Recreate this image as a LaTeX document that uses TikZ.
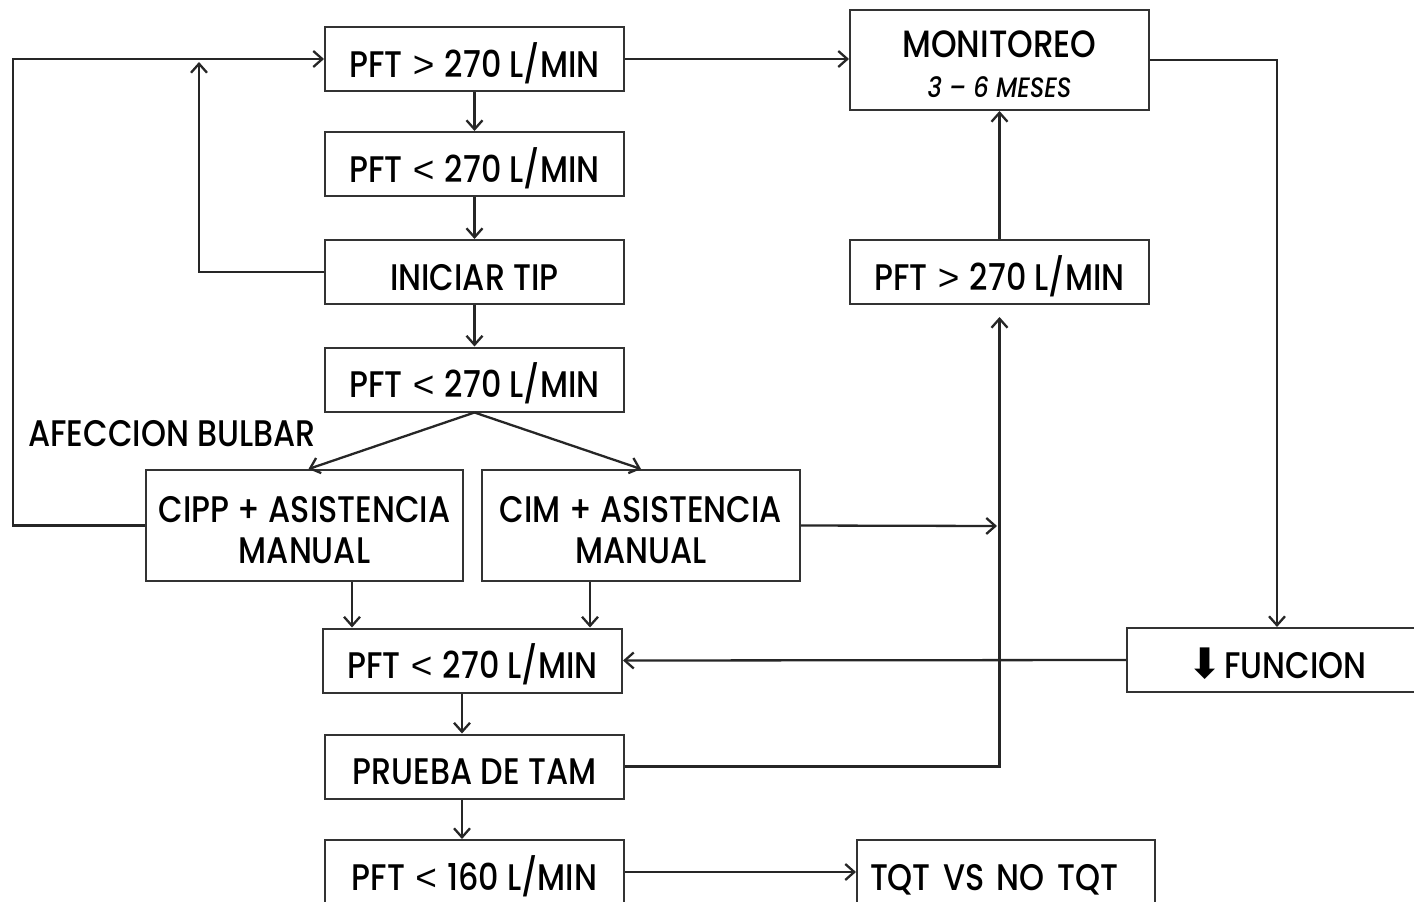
\documentclass[tikz,border=0pt]{standalone}
\usepackage{fontspec}
\setmainfont{Poppins}[FakeStretch=0.86, UprightFont=* Medium, ItalicFont=* Medium Italic]
\newfontfamily\tightfont{Poppins}[FakeStretch=0.86, WordSpace=0.7, UprightFont=* Medium]
\newfontfamily\symfont{DejaVu Sans}
\newfontfamily\ltgtfont{Liberation Sans}
\newcommand{\myLT}{{\hspace{2pt}\ltgtfont <\hspace{2pt}}}
\newcommand{\myGT}{{\hspace{2pt}\ltgtfont >\hspace{2pt}}}
\usetikzlibrary{arrows.meta}
\begin{document}
\tikzset{
  box/.style={draw=black!80, line width=2pt, minimum width=299pt, minimum height=64pt, inner sep=0pt, fill=white, font=\fontsize{37}{42}\selectfont, text height=36pt, text depth=0pt},
  twoline/.style={box, text height=, text depth=, minimum height=111pt, align=center, font=\fontsize{37}{41}\selectfont},
  conn/.style={line width=2.3pt, draw=black!85, -{Straight Barb[length=9pt,width=16pt,line width=2.3pt]}},
  lbl/.style={inner sep=0pt, font=\fontsize{37}{42}\selectfont}
}
\begin{tikzpicture}[x=1pt,y=-1pt]
\useasboundingbox (0,0) rectangle (1414,902);
\fill[white] (0,0) rectangle (1414,902);

\node[box] (A) at (474.5,59) {PFT \myGT{} 270 L/MIN};
\node[box] (B) at (474.5,164) {PFT \myLT{} 270 L/MIN};
\node[box] (C) at (474.5,272) {INICIAR TIP};
\node[box] (D) at (474.5,379.5) {PFT \myLT{} 270 L/MIN};
\node[twoline, minimum width=317pt] (E) at (304.5,525.5) {\rule{0pt}{35pt}CIPP + ASISTENCIA\\MANUAL};
\node[twoline, minimum width=318pt] (F) at (641,525.5) {\rule{0pt}{35pt}CIM + ASISTENCIA\\MANUAL};
\node[box] (G) at (472.5,660.5) {PFT \myLT{} 270 L/MIN};
\node[box] (H) at (474.5,766.5) {PRUEBA DE TAM};
\node[box] (I) at (474.5,872) {PFT \myLT{} 160 L/MIN};
\node[box, minimum width=298pt, text width=272pt, align=left, font=\tightfont\fontsize{37}{42}\selectfont] (J) at (1006,872) {TQT VS NO TQT};
\node[twoline, minimum height=100pt, font=\fontsize{38}{42}\selectfont] (K) at (999.5,60) {\rule{0pt}{35pt}MONITOREO\\[-2pt]{\itshape\fontsize{28}{30}\selectfont 3 -- 6 MESES}};
\node[box] (L) at (999.5,272) {PFT \myGT{} 270 L/MIN};
\node[box, minimum width=300pt] (M) at (1277,660) {{\symfont\fontsize{42}{42}\selectfont ⬇}\hspace{2pt}FUNCION};

\node[lbl] (AB) at (172,434) {AFECCION BULBAR};

\coordinate (tipA) at (199,62);
\coordinate (tipL) at (999.5,317);
\coordinate (tipF) at (997,526);

\draw[conn] (E.west) -- ++(-132,0) |- (A.west);
\draw[conn] (C.west) -| (tipA);
\draw[conn] (A.south) -- (B.north);
\draw[conn] (B.south) -- (C.north);
\draw[conn] (C.south) -- (D.north);
\draw[conn] (D.south) -- ([xshift=4pt]E.north);
\draw[conn] (D.south) -- (F.north);
\draw[conn] ([xshift=47.5pt]E.south) -- ([xshift=47.5pt]E.south |- G.north);
\draw[conn] ([xshift=-51pt]F.south) -- ([xshift=-51pt]F.south |- G.north);
\draw[conn] ([xshift=-10.5pt]G.south) -- ([xshift=-12.5pt]H.north);
\draw[conn] ([xshift=-12.5pt]H.south) -- ([xshift=-12.5pt]I.north);
\draw[conn] (I.east) -- (J.west);
\draw[conn] (A.east) -- (K.west |- A.east);
\draw[conn] (K.east) -| (M.north);
\draw[conn] (M.west) -- (G.east);
\draw[conn] (H.east) -| (tipL);
\draw[conn] (F.east) -- (tipF);
\draw[conn] (L.north) -- (K.south);
\end{tikzpicture}
\end{document}
